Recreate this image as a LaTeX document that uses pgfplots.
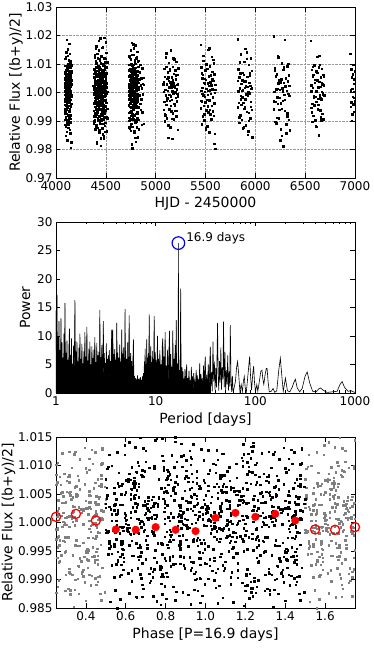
\documentclass[border=0pt]{standalone}
\usepackage{fontspec}
\setmainfont{DejaVu Sans}
\usepackage{pgfplots}
\pgfplotsset{compat=1.18}
\usepackage{pgfplotstable}
\definecolor{ptgray}{HTML}{808080}

% photometry: HJD-2450000, relative flux in per mille (flux-1)*1000
\pgfplotstableread[row sep=\\]{
t f\\
4085.3 3.2\\4086.8 -5.8\\4087.1 0.7\\4088.6 9.4\\4089.9 -2.1\\4090.2 -11.3\\4091.7 4.6\\4092.4 1.9\\4093.0 -7.2\\4094.5 6.8\\
4095.6 -0.4\\4096.9 12.5\\4097.2 -15.1\\4098.7 2.8\\4099.4 -8.6\\4100.0 5.5\\4101.5 -1.7\\4102.3 0.3\\4103.8 7.9\\4104.1 -4.4\\
4105.7 -13.8\\4106.4 3.7\\4107.0 18.6\\4108.5 -6.1\\4109.3 1.1\\4110.8 -2.9\\4111.1 8.3\\4112.6 -9.7\\4113.9 4.1\\4114.2 -0.9\\
4115.1 15.2\\4116.6 -5.2\\4117.9 2.2\\4118.2 6.3\\4119.7 -3.3\\4120.3 -12.4\\4121.8 0.8\\4122.4 9.9\\4123.0 -7.8\\4124.5 3.0\\
4125.9 -1.2\\4126.2 5.9\\4127.5 -10.1\\4128.0 2.5\\4129.8 11.4\\4130.3 -4.7\\4131.6 0.1\\4132.1 7.1\\4133.7 -6.6\\4134.4 -2.4\\
4135.3 4.8\\4136.8 13.6\\4137.1 -8.9\\4138.6 1.6\\4139.9 -3.6\\4140.2 6.1\\4141.7 -0.2\\4142.4 -14.3\\4143.0 3.4\\4144.5 8.7\\
4145.6 -5.0\\4146.9 0.5\\4147.2 10.6\\4148.7 -9.2\\4149.4 2.0\\4150.0 -19.4\\4151.5 4.3\\4152.3 -1.5\\4153.8 7.4\\4154.1 -4.0\\
4085.2 -4.2\\4086.9 7.3\\4087.5 -0.8\\4088.0 2.6\\4089.7 -9.5\\4090.4 5.1\\4091.1 11.8\\4092.8 -3.0\\4093.3 0.4\\4094.6 -6.9\\
4095.8 3.9\\4096.3 -12.0\\4097.6 1.2\\4098.2 8.0\\4099.9 -2.7\\4100.5 -0.1\\4101.0 6.4\\4102.7 -7.4\\4103.4 14.1\\4104.1 -1.8\\
4105.4 4.5\\4106.1 -10.7\\4107.8 0.9\\4108.3 2.3\\4109.6 -5.3\\4110.2 9.2\\4111.9 -3.5\\4112.5 -16.8\\4113.0 6.0\\4114.7 1.7\\
4115.2 -8.1\\4116.9 3.6\\4117.5 -0.6\\4118.0 12.9\\4119.7 -4.6\\4120.4 5.0\\4121.1 -2.0\\4122.8 7.7\\4123.3 -11.2\\4124.6 0.2\\
4125.8 2.9\\4126.3 -6.3\\4127.6 10.1\\4128.2 -1.4\\4129.9 4.0\\4130.5 -9.0\\4131.0 17.1\\4132.7 -3.1\\4133.4 6.7\\4134.1 -0.3\\
4135.4 -5.6\\4136.1 1.5\\4137.8 8.8\\4138.3 -13.0\\4139.6 3.3\\4140.2 -2.5\\4141.9 5.6\\4142.5 -7.9\\4143.0 0.6\\4144.7 11.0\\
4145.2 -1.0\\4146.9 4.7\\4147.5 -10.4\\4148.0 2.1\\4149.7 -4.1\\4150.4 9.5\\4151.1 -17.5\\4152.8 3.0\\4153.3 -0.7\\4154.6 6.9\\
4375.3 2.4\\4376.8 -6.3\\4377.1 0.9\\4378.6 8.1\\4379.9 -3.7\\4380.2 -10.8\\4381.7 5.2\\4382.4 1.3\\4383.0 -8.4\\4384.5 6.6\\
4385.6 -0.7\\4386.9 13.1\\4387.2 -4.9\\4388.7 3.3\\4389.4 -9.6\\4390.0 5.0\\4391.5 -1.9\\4392.3 0.6\\4393.8 7.5\\4394.1 -3.1\\
4395.7 -12.7\\4396.4 4.2\\4397.0 10.9\\4398.5 -5.5\\4399.3 1.7\\4400.8 -2.6\\4401.1 8.8\\4402.6 -11.9\\4403.9 3.8\\4404.2 -1.1\\
4405.1 16.3\\4406.6 -6.8\\4407.9 2.7\\4408.2 5.7\\4409.7 -2.2\\4410.3 -17.8\\4411.8 0.2\\4412.4 9.1\\4413.0 -7.0\\4414.5 3.5\\
4415.9 -0.3\\4416.2 6.2\\4417.5 -9.1\\4418.0 2.1\\4419.8 12.0\\4420.3 -4.1\\4421.6 1.4\\4422.1 7.7\\4423.7 -6.0\\4424.4 -1.6\\
4425.3 4.4\\4426.8 14.8\\4427.1 -8.2\\4428.6 1.0\\4429.9 -3.0\\4430.2 6.9\\4431.7 -0.6\\4432.4 -13.2\\4433.0 3.1\\4434.5 8.5\\
4435.6 -5.7\\4436.9 0.4\\4437.2 11.1\\4438.7 -10.4\\4439.4 2.6\\4440.0 -1.4\\4441.5 19.1\\4442.3 -5.9\\4443.8 2.9\\4444.1 6.0\\
4445.7 -3.8\\4446.4 -18.6\\4447.0 0.0\\4448.5 10.3\\4449.3 -7.5\\4450.8 3.9\\4451.1 -1.0\\4452.6 5.3\\4453.9 -9.9\\4454.2 2.3\\
4455.1 12.8\\4456.6 -4.5\\4457.9 0.8\\4458.2 7.2\\4459.7 -6.4\\4460.3 -2.0\\4461.8 4.7\\4462.4 15.7\\4463.0 -8.0\\4464.5 1.5\\
4465.9 -3.4\\4466.2 6.4\\4467.5 -0.1\\4468.0 -14.6\\4469.8 3.6\\4470.3 9.6\\4471.6 -5.3\\4472.1 0.9\\4473.7 10.0\\4474.4 -9.4\\
4475.3 1.8\\4476.8 -16.0\\4477.1 4.0\\4478.6 -1.3\\4479.9 7.8\\4480.2 -4.2\\4481.7 19.3\\4482.4 -6.7\\4483.0 2.0\\4484.5 5.6\\
4485.6 -2.8\\4486.9 -11.6\\4487.2 1.2\\4488.7 9.3\\4489.4 -7.3\\4490.0 3.3\\4491.5 -0.8\\4492.3 5.8\\4493.8 -10.6\\4494.1 2.9\\
4495.7 11.8\\4496.4 -4.8\\4497.0 0.5\\4498.5 7.0\\4499.3 -6.2\\4500.8 -2.5\\4501.1 4.9\\4502.6 14.0\\4503.9 -8.7\\4504.2 1.9\\
4505.1 -3.5\\4506.6 6.7\\4507.9 -0.5\\4508.2 -13.5\\4509.7 3.2\\4510.3 8.9\\4511.8 -5.6\\4512.4 0.3\\4513.0 10.7\\4514.5 -9.0\\
4380.2 -3.6\\4381.9 8.4\\4382.5 -0.2\\4383.0 1.9\\4384.7 -10.1\\4385.4 5.4\\4386.1 12.4\\4387.8 -2.8\\4388.3 0.6\\4389.6 -7.3\\
4390.8 4.1\\4391.3 -13.1\\4392.6 1.0\\4393.2 7.6\\4394.9 -4.0\\4395.5 -0.5\\4396.0 6.1\\4397.7 -8.5\\4398.4 15.4\\4399.1 -1.2\\
4400.4 3.7\\4401.1 -11.5\\4402.8 0.1\\4403.3 2.7\\4404.6 -5.9\\4405.2 10.2\\4406.9 -3.3\\4407.5 -17.2\\4408.0 6.6\\4409.7 1.4\\
4410.2 -7.7\\4411.9 3.0\\4412.5 -1.1\\4413.0 13.7\\4414.7 -4.7\\4415.4 5.7\\4416.1 -2.2\\4417.8 8.9\\4418.3 -12.3\\4419.6 0.7\\
4420.8 2.5\\4421.3 -6.0\\4422.6 9.4\\4423.2 -0.9\\4424.9 4.3\\4425.5 -9.8\\4426.0 18.2\\4427.7 -3.9\\4428.4 7.1\\4429.1 -0.4\\
4430.4 -5.1\\4431.1 1.8\\4432.8 9.0\\4433.3 -14.0\\4434.6 3.5\\4435.2 -2.9\\4436.9 5.0\\4437.5 -8.3\\4438.0 0.3\\4439.7 11.9\\
4440.2 -1.7\\4441.9 4.9\\4442.5 -10.9\\4443.0 2.2\\4444.7 -4.4\\4445.4 8.1\\4446.1 -16.1\\4447.8 3.2\\4448.3 -0.6\\4449.6 6.3\\
4450.8 -2.4\\4451.3 7.0\\4452.6 -0.7\\4453.2 1.1\\4454.9 -9.2\\4455.5 4.6\\4456.0 13.0\\4457.7 -3.7\\4458.4 0.8\\4459.1 -6.5\\
4460.4 3.4\\4461.1 -12.6\\4462.8 1.6\\4463.3 7.9\\4464.6 -3.0\\4465.2 -1.9\\4466.9 5.8\\4467.5 -7.1\\4468.0 16.0\\4469.7 -0.1\\
4470.2 4.8\\4471.9 -11.0\\4472.5 0.5\\4473.0 2.0\\4474.7 -6.2\\4475.4 9.7\\4476.1 -4.3\\4477.8 -15.3\\4478.3 5.5\\4479.6 1.3\\
4480.8 -8.6\\4481.3 2.6\\4482.6 -1.5\\4483.2 12.1\\4484.9 -5.0\\4485.5 6.8\\4486.0 -2.6\\4487.7 8.2\\4488.4 -13.7\\4489.1 0.0\\
4490.4 2.8\\4491.1 -6.6\\4492.8 10.6\\4493.3 -0.3\\4494.6 4.2\\4495.2 -8.8\\4496.9 17.7\\4497.5 -3.4\\4498.0 6.5\\4499.7 -1.0\\
4728.3 1.6\\4729.8 -7.1\\4730.1 3.0\\4731.6 9.7\\4732.9 -2.3\\4733.2 -12.2\\4734.7 5.9\\4735.4 0.4\\4736.0 -8.8\\4737.5 6.1\\
4738.6 -1.4\\4739.9 12.2\\4740.2 -5.0\\4741.7 2.4\\4742.4 -9.3\\4743.0 4.5\\4744.5 -0.9\\4745.3 1.3\\4746.8 8.0\\4747.1 -3.9\\
4748.7 -13.4\\4749.4 3.9\\4750.0 11.6\\4751.5 -6.3\\4752.3 0.6\\4753.8 -2.7\\4754.1 7.3\\4755.6 -11.0\\4756.9 4.6\\4757.2 -0.4\\
4758.1 17.4\\4759.6 -6.5\\4760.9 2.3\\4761.2 5.1\\4762.7 -3.2\\4763.3 -19.6\\4764.8 1.0\\4765.4 9.5\\4766.0 -7.7\\4767.5 3.6\\
4768.9 -0.6\\4769.2 6.5\\4770.5 -8.5\\4771.0 2.8\\4772.8 13.3\\4773.3 -4.3\\4774.6 1.8\\4775.1 7.4\\4776.7 -5.8\\4777.4 -1.8\\
4778.3 4.1\\4779.8 15.5\\4780.1 -8.0\\4781.6 0.7\\4782.9 -3.4\\4783.2 6.3\\4784.7 -0.2\\4785.4 -14.1\\4786.0 2.9\\4787.5 8.2\\
4788.6 -5.4\\4789.9 0.1\\4790.2 10.5\\4791.7 -10.0\\4792.4 2.2\\4793.0 -1.6\\4794.5 16.6\\4795.3 -5.1\\4796.8 3.4\\4797.1 6.8\\
4798.7 -3.6\\4799.4 -17.2\\4800.0 0.9\\4801.5 10.1\\4802.3 -7.4\\4803.8 4.3\\4804.1 -1.2\\4805.6 5.4\\4806.9 -10.3\\4807.2 2.5\\
4808.1 12.4\\4809.6 -4.6\\4810.9 0.6\\4811.2 7.6\\4812.7 -6.9\\4813.3 -2.1\\4814.8 4.4\\4815.4 14.4\\4816.0 -9.1\\4817.5 1.2\\
4818.9 -3.1\\4819.2 6.0\\4820.5 -0.8\\4821.0 -15.6\\4822.8 3.5\\4823.3 9.0\\4824.6 -5.2\\4825.1 1.1\\4826.7 11.2\\4827.4 -9.5\\
4830.6 2.0\\4832.1 -12.9\\4835.8 4.7\\4837.3 -1.0\\4840.9 7.1\\4842.4 -4.0\\4845.2 9.8\\4847.7 -6.0\\4850.0 2.6\\4852.5 5.0\\
4855.3 -2.4\\4857.8 -11.3\\4860.4 1.5\\4863.9 8.6\\4866.2 -7.0\\4869.6 3.1\\4872.1 -0.6\\4875.7 5.2\\4878.0 -10.9\\4881.4 2.7\\
4730.2 -4.5\\4731.9 7.8\\4732.5 -1.0\\4733.0 2.1\\4734.7 -9.9\\4735.4 5.6\\4736.1 12.7\\4737.8 -2.6\\4738.3 0.5\\4739.6 -7.0\\
4740.8 4.4\\4741.3 -12.5\\4742.6 1.1\\4743.2 8.3\\4744.9 -3.8\\4745.5 -0.4\\4746.0 6.2\\4747.7 -8.2\\4748.4 14.8\\4749.1 -1.6\\
4750.4 3.8\\4751.1 -11.8\\4752.8 0.0\\4753.3 2.9\\4754.6 -5.4\\4755.2 9.9\\4756.9 -3.2\\4757.5 -18.1\\4758.0 6.4\\4759.7 1.5\\
4760.2 -7.9\\4761.9 3.1\\4762.5 -0.9\\4763.0 13.2\\4764.7 -4.9\\4765.4 5.3\\4766.1 -2.1\\4767.8 8.6\\4768.3 -12.0\\4769.6 0.8\\
4770.8 2.4\\4771.3 -6.1\\4772.6 9.8\\4773.2 -1.2\\4774.9 4.6\\4775.5 -9.4\\4776.0 16.9\\4777.7 -3.6\\4778.4 6.9\\4779.1 -0.2\\
4780.4 -5.3\\4781.1 1.9\\4782.8 8.5\\4783.3 -13.6\\4784.6 3.6\\4785.2 -2.7\\4786.9 5.2\\4787.5 -8.0\\4788.0 0.2\\4789.7 11.3\\
4790.2 -1.3\\4791.9 4.8\\4792.5 -10.5\\4793.0 2.4\\4794.7 -4.2\\4795.4 8.7\\4796.1 -15.9\\4797.8 3.3\\4798.3 -0.8\\4799.6 6.6\\
4800.8 -2.2\\4801.3 7.2\\4802.6 -0.5\\4803.2 1.3\\4804.9 -9.6\\4805.5 4.9\\4806.0 12.0\\4807.7 -3.4\\4808.4 0.9\\4809.1 -6.8\\
4810.4 3.2\\4811.1 -12.2\\4812.8 1.7\\4813.3 7.5\\4814.6 -3.1\\4815.2 -1.7\\4816.9 6.0\\4817.5 -7.2\\4818.0 10.9\\4819.7 -0.6\\
5077.3 2.9\\5079.8 -6.0\\5082.1 0.3\\5084.6 8.4\\5087.9 -3.3\\5089.2 -10.0\\5092.7 5.6\\5094.4 1.0\\5097.0 -7.9\\5099.5 12.3\\
5102.6 -0.9\\5104.9 13.8\\5107.2 -4.2\\5109.7 3.0\\5112.4 -9.0\\5114.0 4.8\\5117.5 -2.0\\5119.3 0.7\\5122.8 7.2\\5124.1 -15.8\\
5127.7 -11.5\\5129.4 4.1\\5132.0 10.4\\5134.5 -5.8\\5137.3 1.9\\5139.8 -2.9\\5142.1 8.1\\5144.6 -12.2\\5147.9 3.6\\5149.2 -1.3\\
5152.1 14.9\\5154.6 -6.6\\5157.9 2.5\\5159.2 5.4\\5162.7 -2.6\\5164.3 -16.2\\5167.8 0.4\\5169.4 9.0\\5172.0 -7.2\\5174.5 3.2\\
5177.9 -0.2\\5179.2 6.6\\5182.5 -9.4\\5184.0 2.2\\5187.8 11.7\\5189.3 -4.4\\5192.6 1.6\\5194.1 7.9\\5197.7 -6.3\\5199.4 -1.8\\
5202.3 4.6\\5204.8 10.8\\5207.1 -8.4\\5209.6 1.1\\5212.9 -3.1\\5214.2 6.2\\5217.7 -0.5\\5219.4 -13.0\\5222.0 3.0\\5225.5 8.6\\
5080.7 3.6\\5088.2 -7.5\\5095.9 0.9\\5103.4 9.1\\5110.1 -2.8\\5118.6 -11.6\\5125.3 5.3\\5133.8 -0.7\\5140.0 7.9\\5148.5 -4.6\\
5155.8 1.8\\5163.3 -9.2\\5170.6 4.4\\5178.2 12.1\\5185.9 -3.9\\5193.5 0.1\\5200.0 6.1\\5208.7 -6.4\\5215.4 2.7\\5220.1 -1.3\\
5451.6 16.8\\5453.9 -5.5\\5456.2 0.6\\5458.7 8.9\\5461.4 -3.0\\5463.0 -11.1\\5466.5 5.1\\5468.3 1.7\\5471.8 -8.3\\5473.1 6.3\\
5476.7 -1.0\\5478.4 12.9\\5481.0 -4.6\\5483.5 3.5\\5486.3 -9.8\\5488.8 4.9\\5491.1 -1.5\\5493.6 0.2\\5496.9 7.8\\5498.2 -3.4\\
5501.1 -12.6\\5503.6 4.5\\5506.9 10.0\\5508.2 -6.2\\5511.7 1.4\\5513.3 -2.5\\5516.8 8.4\\5518.4 -11.8\\5521.0 3.3\\5523.5 -0.7\\
5526.9 15.0\\5528.2 -6.9\\5531.5 2.4\\5533.0 5.8\\5536.8 -2.7\\5538.3 -13.9\\5541.6 0.8\\5543.1 9.3\\5546.7 -7.6\\5548.4 3.7\\
5551.3 -0.4\\5553.8 6.0\\5556.1 -9.2\\5558.6 2.6\\5561.9 12.6\\5563.2 -4.7\\5566.7 1.2\\5568.4 7.3\\5571.0 -6.5\\5573.5 -1.4\\
5576.6 4.2\\5578.9 11.5\\5581.2 -8.1\\5583.7 0.9\\5586.4 -17.9\\5588.0 6.5\\5591.5 -0.1\\5593.3 -14.4\\5596.8 2.7\\5599.1 -19.8\\
5454.3 -2.9\\5462.8 6.8\\5469.1 -0.4\\5477.6 11.2\\5484.9 -7.7\\5492.2 3.3\\5499.7 -12.9\\5507.4 1.4\\5514.0 8.3\\5522.5 -4.8\\
5529.2 0.6\\5537.9 15.6\\5544.5 -6.1\\5552.0 2.9\\5559.7 -9.5\\5567.4 4.7\\5574.1 -1.9\\5582.8 10.3\\5589.3 -3.7\\5597.6 1.0\\
5821.7 18.7\\5824.4 -5.1\\5827.0 0.5\\5830.5 8.2\\5833.3 -3.5\\5836.8 -10.6\\5839.1 5.4\\5842.6 1.5\\5845.9 -8.0\\5848.2 6.7\\
5851.1 -1.2\\5854.6 13.4\\5857.9 -4.3\\5860.2 3.1\\5863.7 -9.5\\5866.3 4.4\\5869.8 -1.7\\5872.4 0.8\\5875.0 7.0\\5878.5 -3.6\\
5881.9 -12.1\\5884.2 4.0\\5887.5 10.8\\5890.0 -5.7\\5893.8 1.6\\5896.3 -2.3\\5899.6 15.3\\5902.1 -11.4\\5905.7 3.9\\5908.4 -0.6\\
5911.3 11.9\\5914.8 -6.7\\5917.1 2.1\\5920.6 5.5\\5923.9 -14.8\\5926.2 -13.6\\5929.7 0.1\\5932.4 9.7\\5935.0 -7.1\\5938.5 3.4\\
5941.6 -0.3\\5944.9 6.8\\5947.2 -9.0\\5950.7 2.4\\5953.4 12.1\\5956.0 -4.9\\5959.5 1.3\\5962.3 7.6\\5965.8 -6.1\\5968.1 -15.6\\
5825.2 4.1\\5835.9 -8.7\\5845.5 10.7\\5855.0 -2.4\\5865.7 0.7\\5875.4 -12.5\\5885.1 6.3\\5895.8 -5.2\\5905.3 2.2\\5915.6 14.2\\
5925.8 -0.9\\5935.3 -9.9\\5945.6 5.9\\5955.2 -3.3\\5965.9 1.6\\
6182.7 19.7\\6186.4 -5.9\\6189.0 0.2\\6193.5 8.6\\6197.3 -3.2\\6200.8 -10.2\\6204.1 5.8\\6208.6 1.2\\6211.9 -8.9\\6215.2 6.5\\
6219.1 -1.6\\6222.6 12.7\\6226.9 -4.0\\6230.2 3.2\\6233.7 -9.1\\6237.3 4.3\\6241.8 -1.8\\6244.4 0.9\\6248.0 -16.7\\6252.5 -3.8\\
6255.9 -12.8\\6259.2 4.6\\6263.5 10.3\\6266.0 -5.6\\6270.8 1.5\\6274.3 -2.8\\6277.6 8.0\\6281.1 -18.9\\6285.7 3.5\\6288.4 -0.8\\
6292.3 18.5\\6296.8 -6.4\\6299.1 2.2\\6303.6 5.2\\6307.9 -14.2\\6310.2 -11.1\\6314.7 0.6\\6318.4 9.2\\6321.0 -7.3\\6325.5 3.9\\
6329.6 -0.5\\6332.9 6.1\\6336.2 -9.6\\6340.7 2.3\\6344.4 -13.3\\
6185.8 -3.0\\6196.3 7.6\\6207.6 -10.8\\6218.2 1.3\\6229.9 12.3\\6240.5 -6.0\\6251.0 3.7\\6262.7 -15.1\\6273.4 0.4\\6284.1 8.9\\
6295.2 -2.6\\6306.9 4.8\\6317.5 -8.4\\6328.0 10.1\\6339.7 -1.1\\
6556.6 18.2\\6559.9 -5.3\\6562.2 0.4\\6565.7 8.0\\6568.4 -3.9\\6571.0 -10.3\\6574.5 5.7\\6577.3 1.6\\6580.8 -8.2\\6583.1 6.2\\
6586.7 -1.1\\6589.4 9.6\\6592.0 -4.4\\6595.5 3.4\\6598.3 -9.7\\6601.8 4.5\\6604.1 -1.4\\6607.6 0.7\\6610.9 7.4\\6613.2 -3.2\\
6616.1 -12.0\\6619.6 4.3\\6622.9 12.6\\6625.2 -5.9\\6628.7 1.8\\6631.3 -2.2\\6634.8 8.8\\6637.4 -15.0\\6640.0 3.8\\6643.5 -0.9\\
6646.9 9.7\\6649.2 -6.2\\6652.5 2.0\\6655.0 5.3\\6658.8 -2.4\\6661.3 -9.8\\6664.6 0.3\\6667.1 8.4\\6670.7 -7.5\\6673.4 3.0\\
6676.3 -0.6\\6679.8 6.3\\6682.1 -9.3\\6685.6 2.5\\6688.9 -1.0\\
6558.2 2.6\\6567.9 -7.0\\6576.5 9.0\\6585.0 -1.7\\6594.7 4.5\\6603.4 -11.9\\6612.1 0.5\\6621.8 6.9\\6630.3 -4.3\\6639.6 13.0\\
6648.8 -2.0\\6657.3 -8.6\\6666.6 3.5\\6675.2 -0.2\\6684.9 5.8\\
6952.3 13.7\\6955.8 -5.0\\6957.1 0.8\\6960.6 8.1\\6962.9 -3.4\\6965.2 -9.9\\6967.7 5.3\\6970.4 1.4\\6972.0 -7.6\\6975.5 6.4\\
6977.6 -1.5\\6980.9 9.8\\6982.2 -4.1\\6985.7 3.1\\6987.4 -6.8\\6990.0 4.7\\6992.5 -1.9\\6994.3 0.2\\6996.8 7.5\\6998.1 -3.0\\
}\lc

% periodogram: log10(period/days), power
\pgfplotstableread[row sep=\\]{
lp pw\\
0.000 14.5\\0.005 3.0\\0.010 17.2\\0.015 1.5\\0.020 9.8\\0.025 2.2\\0.030 12.6\\0.035 0.8\\0.040 7.5\\0.045 3.4\\
0.050 13.1\\0.055 1.2\\0.060 8.9\\0.065 2.6\\0.070 6.2\\0.075 0.5\\0.080 10.4\\0.085 2.9\\0.090 15.8\\0.095 1.0\\
0.100 7.0\\0.105 3.1\\0.110 9.2\\0.115 0.7\\0.120 5.8\\0.125 2.4\\0.130 8.0\\0.135 11.3\\0.140 1.4\\0.145 6.7\\
0.150 3.5\\0.155 9.6\\0.160 0.9\\0.165 5.1\\0.170 2.0\\0.175 8.3\\0.180 1.6\\0.185 6.9\\0.190 16.3\\0.195 2.7\\
0.200 7.4\\0.205 0.6\\0.210 9.0\\0.215 3.0\\0.220 5.5\\0.225 1.1\\0.230 7.9\\0.235 2.3\\0.240 10.4\\0.245 0.8\\
0.250 6.0\\0.255 3.3\\0.260 8.6\\0.265 1.5\\0.270 5.2\\0.275 2.5\\0.280 7.3\\0.285 0.9\\0.290 10.7\\0.295 2.1\\
0.300 6.4\\0.305 3.6\\0.310 11.6\\0.315 1.0\\0.320 5.7\\0.325 2.8\\0.330 7.8\\0.335 0.5\\0.340 9.0\\0.345 2.2\\
0.350 5.0\\0.355 1.3\\0.360 8.2\\0.365 3.2\\0.370 6.1\\0.375 0.7\\0.380 7.6\\0.385 2.6\\0.390 9.8\\0.395 1.2\\
0.400 5.4\\0.405 3.0\\0.410 8.8\\0.415 0.8\\0.420 6.6\\0.425 2.4\\0.430 7.2\\0.435 1.6\\0.440 14.6\\0.445 2.0\\
0.450 6.3\\0.455 3.4\\0.460 8.4\\0.465 0.6\\0.470 5.9\\0.475 12.6\\0.480 1.8\\0.485 7.0\\0.490 2.9\\0.495 5.3\\
0.500 1.1\\0.505 8.7\\0.510 2.3\\0.515 6.0\\0.520 0.9\\0.525 6.6\\0.530 3.1\\0.535 7.5\\0.540 1.4\\0.545 5.6\\
0.550 2.7\\0.555 8.1\\0.560 11.1\\0.565 1.0\\0.570 11.1\\0.575 2.5\\0.580 6.8\\0.585 0.7\\0.590 7.7\\0.595 3.0\\
0.600 5.8\\0.605 1.5\\0.610 12.3\\0.615 2.2\\0.620 7.1\\0.625 0.8\\0.630 6.2\\0.635 3.3\\0.640 8.5\\0.645 1.2\\
0.650 5.5\\0.655 2.6\\0.660 11.1\\0.665 0.9\\0.670 6.9\\0.675 2.8\\0.680 8.0\\0.685 1.3\\0.690 5.2\\0.693 14.7\\
0.697 2.0\\0.700 7.4\\0.705 3.1\\0.710 6.0\\0.715 0.6\\0.720 8.9\\0.725 2.2\\0.730 5.0\\0.734 13.6\\0.738 1.5\\
0.742 6.4\\0.746 2.7\\0.750 7.0\\0.755 0.8\\0.760 5.6\\0.765 2.1\\0.770 4.3\\0.777 9.4\\0.782 1.0\\
0.788 3.0\\0.792 1.6\\0.797 2.6\\0.802 1.4\\0.807 2.4\\0.812 1.3\\0.817 3.1\\0.822 1.5\\0.827 2.5\\0.832 1.6\\
0.837 2.2\\0.842 1.2\\0.847 2.8\\0.852 1.5\\0.857 2.3\\0.862 1.3\\0.867 2.9\\0.872 1.6\\0.877 3.5\\0.882 1.8\\
0.887 5.5\\0.891 1.2\\0.894 7.8\\0.898 2.0\\0.902 5.0\\0.906 0.8\\0.911 9.4\\0.915 2.5\\0.919 6.2\\0.923 1.0\\
0.927 7.0\\0.931 3.0\\0.935 13.8\\0.939 1.5\\0.943 6.5\\0.947 2.2\\0.951 8.2\\0.955 0.9\\0.959 5.4\\0.963 2.8\\
0.967 7.4\\0.971 1.1\\0.975 6.0\\0.980 2.4\\0.985 13.5\\0.990 1.3\\0.995 7.2\\1.000 2.0\\
1.005 5.8\\1.010 0.6\\1.018 10.0\\1.024 1.8\\1.030 6.0\\1.036 0.4\\1.042 7.5\\1.048 2.5\\1.054 5.0\\1.060 0.7\\
1.066 8.2\\1.072 9.6\\1.078 1.2\\1.084 6.4\\1.090 2.8\\1.095 10.7\\1.100 0.5\\1.106 4.8\\1.112 1.9\\1.118 7.6\\
1.124 0.8\\1.130 5.5\\1.139 10.9\\1.145 1.5\\1.151 6.8\\1.157 2.2\\1.163 4.6\\1.168 0.6\\1.172 11.0\\1.178 1.3\\
1.184 6.0\\1.190 2.7\\1.196 8.4\\1.201 0.9\\1.206 12.8\\1.211 1.5\\1.216 5.2\\1.220 0.5\\1.224 3.0\\1.226 9.0\\
1.228 26.3\\1.230 9.0\\1.233 0.5\\1.238 4.0\\1.243 0.8\\1.247 6.0\\1.251 18.3\\1.255 4.0\\1.259 0.6\\1.264 4.5\\
1.269 1.2\\1.274 3.8\\1.279 0.7\\1.284 2.5\\1.289 0.4\\1.294 4.2\\1.299 1.0\\1.305 3.0\\1.311 5.0\\1.316 0.8\\
1.322 2.6\\1.328 0.3\\1.334 3.9\\1.340 1.2\\1.346 2.2\\1.352 0.4\\1.358 4.6\\1.364 0.9\\1.370 2.9\\1.376 0.3\\
1.382 3.5\\1.388 1.4\\1.394 2.0\\1.400 0.2\\1.406 4.0\\1.412 0.8\\1.418 3.1\\1.424 0.5\\1.430 2.4\\1.436 1.5\\
1.442 5.2\\1.448 0.4\\1.454 3.3\\1.460 1.0\\1.466 2.6\\1.472 0.3\\1.480 4.8\\1.488 1.1\\1.497 6.4\\1.505 0.5\\
1.512 3.2\\1.520 0.9\\1.528 5.0\\1.535 0.4\\1.542 4.0\\1.548 8.1\\1.555 1.2\\1.562 3.6\\1.568 0.3\\1.575 9.0\\
1.582 2.0\\1.589 5.5\\1.596 0.5\\1.603 4.4\\1.610 1.0\\1.616 6.8\\1.621 12.3\\1.627 3.0\\1.633 0.4\\1.640 5.6\\
1.647 1.8\\1.654 8.0\\1.661 0.6\\1.668 4.5\\1.675 2.4\\1.681 12.5\\1.688 1.0\\1.695 7.2\\1.702 0.3\\1.709 4.0\\
1.716 1.5\\1.723 6.6\\1.730 0.4\\1.737 3.8\\1.743 1.1\\1.749 11.9\\1.756 2.0\\1.763 0.2\\1.770 3.0\\1.776 0.5\\
1.780 0.3\\1.800 2.0\\1.812 4.5\\1.822 5.5\\1.832 3.5\\1.845 0.3\\1.858 1.5\\1.870 0.2\\1.880 2.0\\1.889 2.9\\
1.898 1.0\\1.910 0.2\\1.925 3.0\\1.943 6.4\\1.952 3.0\\1.962 0.5\\1.975 3.5\\1.983 4.7\\1.992 1.8\\2.002 0.2\\
2.015 1.5\\2.025 0.3\\2.040 2.0\\2.055 3.8\\2.067 4.0\\2.075 2.5\\2.085 1.5\\2.098 3.2\\2.110 4.3\\2.118 4.3\\
2.128 2.0\\2.140 0.2\\2.160 0.3\\2.178 0.8\\2.195 0.1\\2.215 0.4\\2.235 4.0\\2.251 6.1\\2.266 3.0\\2.280 0.3\\
2.302 2.6\\2.322 0.4\\2.345 0.2\\2.370 1.0\\2.385 1.8\\2.402 2.4\\2.420 0.9\\2.445 0.2\\2.470 0.8\\2.500 3.0\\
2.520 3.7\\2.545 1.8\\2.575 0.3\\2.610 0.2\\2.635 0.7\\2.653 0.9\\2.680 0.5\\2.720 0.1\\2.770 0.2\\2.820 0.3\\
2.850 1.5\\2.871 2.0\\2.895 1.0\\2.930 0.3\\2.960 0.4\\2.985 0.2\\3.000 0.1\\
}\pgram

\pgfplotsset{
  panel/.style={
    scale only axis, width=299pt, height=171pt, anchor=south west,
    tick label style={font=\fontsize{12}{14}\selectfont},
    label style={font=\fontsize{14}{16}\selectfont},
    axis line style={line width=0.8pt},
    major tick length=4.5pt, minor tick length=2.5pt,
    tick style={line width=0.6pt, black},
  },
}

\begin{document}
\begin{tikzpicture}
\useasboundingbox (0,0) rectangle (374pt,654pt);

% light curve
\begin{axis}[panel, at={(56pt,476pt)},
  xmin=4000, xmax=7000, ymin=-30, ymax=30,
  xtick={4000,4500,5000,5500,6000,6500,7000},
  xticklabels={4000,4500,5000,5500,6000,6500,7000},
  ytick={-30,-20,-10,0,10,20,30},
  yticklabels={0.97,0.98,0.99,1.00,1.01,1.02,1.03},
  grid=major, grid style={gray!80, densely dotted, line width=0.5pt},
  ylabel shift=-4pt,
  xlabel={HJD - 2450000}, ylabel={Relative Flux [(b+y)/2]}]
\addplot[only marks, mark=square*, mark size=0.75pt, black] table[x=t, y=f]{\lc};
\end{axis}

% periodogram
\begin{axis}[panel, at={(56pt,261pt)},
  xmin=0, xmax=3, ymin=0, ymax=30,
  xtick={0,1,2,3}, xticklabels={1,10,100,1000},
  minor xtick={0.301,0.477,0.602,0.699,0.778,0.845,0.903,0.954,
    1.301,1.477,1.602,1.699,1.778,1.845,1.903,1.954,
    2.301,2.477,2.602,2.699,2.778,2.845,2.903,2.954},
  ytick={0,5,10,15,20,25,30}, yticklabels={0,5,10,15,20,25,30},
  xlabel={Period [days]}, ylabel={Power}]
\addplot[draw=none, fill=black, restrict x to domain=0:1.56] table[x=lp, y=pw]{\pgram} \closedcycle;
\addplot[black, line width=0.6pt] table[x=lp, y=pw]{\pgram};
\addplot[only marks, mark=o, mark size=6.3pt, blue, line width=1.2pt] coordinates {(1.228,26.3)};
\node[anchor=west, inner sep=0pt, font=\fontsize{12}{14}\selectfont] at (axis cs:1.305,27.1) {16.9 days};
\end{axis}

% phased light curve (P = 16.9 d), grey copies shifted by one cycle
\begin{axis}[panel, at={(56pt,46pt)},
  xmin=0.25, xmax=1.75, ymin=-15, ymax=15,
  xtick={0.4,0.6,0.8,1.0,1.2,1.4,1.6},
  xticklabels={0.4,0.6,0.8,1.0,1.2,1.4,1.6},
  ytick={-15,-10,-5,0,5,10,15},
  yticklabels={0.985,0.990,0.995,1.000,1.005,1.010,1.015},
  ylabel shift=-4pt,
  xlabel={Phase [P=16.9 days]}, ylabel={Relative Flux [(b+y)/2]}]
\addplot[only marks, mark=square*, mark size=0.75pt, ptgray]
  table[x expr={(\thisrow{t}-4000)/16.9-floor((\thisrow{t}-4000)/16.9)-0.5}, y=f]{\lc};
\addplot[only marks, mark=square*, mark size=0.75pt, ptgray]
  table[x expr={(\thisrow{t}-4000)/16.9-floor((\thisrow{t}-4000)/16.9)+1.5}, y=f]{\lc};
\addplot[only marks, mark=square*, mark size=0.75pt, black]
  table[x expr={(\thisrow{t}-4000)/16.9-floor((\thisrow{t}-4000)/16.9)+0.5}, y=f]{\lc};
\addplot[only marks, mark=o, mark size=4.6pt, red, line width=1.3pt]
  coordinates {(0.25,0.99)(0.35,1.51)(0.45,0.35)(1.55,-1.22)(1.65,-1.28)(1.75,-0.81)};
\addplot[only marks, mark=*, mark size=3.8pt, red]
  coordinates {(0.55,-1.22)(0.65,-1.28)(0.75,-0.81)(0.85,-1.28)(0.95,-1.51)
               (1.05,0.81)(1.15,1.69)(1.25,0.99)(1.35,1.51)(1.45,0.35)};
\end{axis}
\end{tikzpicture}
\end{document}
